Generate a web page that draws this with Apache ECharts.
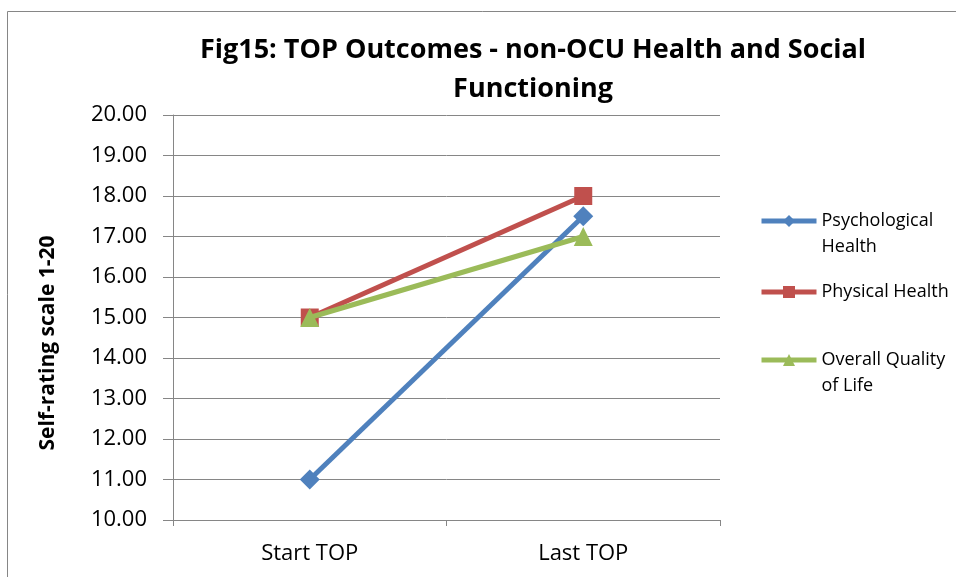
<!DOCTYPE html>
<html><head><meta charset="utf-8">
<script src="https://cdn.jsdelivr.net/npm/echarts@6/dist/echarts.min.js"></script>
<style>html,body{margin:0;padding:0;background:#fff}#c{width:956px;height:577px}</style>
</head><body><div id="c"></div>
<script>
const categories = ['Start TOP', 'Last TOP'];
const psychological = [11.0, 17.5];
const physical = [15.0, 18.0];
const qualityOfLife = [15.0, 17.0];
const seriesNames = ['Psychological Health', 'Physical Health', 'Overall Quality of Life'];
const legendLabels = ['\nPsychological\nHealth', 'Physical Health', '\nOverall Quality\nof Life'];
const yTicks = { min: 10, max: 20, interval: 1 };
const titleText = 'Fig15: TOP Outcomes - non-OCU Health and Social\nFunctioning';
const yName = 'Self-rating scale 1-20';

const FONT = '"Open Sans", "Noto Sans", sans-serif';
const colors = ['#4F81BD', '#C0504D', '#9BBB59'];
const symbols = ['diamond', 'rect', 'triangle'];
const sizes = [20, 18, 19];
const dataArr = [psychological, physical, qualityOfLife];
const legendTops = [182, 279, 321];

const chart = echarts.init(document.getElementById('c'));
const legends = seriesNames.map((n, i) => ({
  data: [n], left: 759, top: legendTops[i], padding: 0,
  itemWidth: 55, itemHeight: 15, orient: 'vertical',
  formatter: () => legendLabels[i],
  lineStyle: { width: 5 },
  textStyle: { fontFamily: FONT, fontSize: 18, color: '#000', lineHeight: 26 }
}));
chart.setOption({
  animation: false,
  backgroundColor: '#fff',
  title: {
    text: titleText, left: 533, textAlign: 'center', top: 31, padding: 0,
    textStyle: { fontFamily: FONT, fontWeight: 'bold', fontSize: 27, color: '#000', lineHeight: 39 }
  },
  legend: legends,
  grid: { left: 173, right: 236, top: 115, bottom: 57 },
  xAxis: {
    type: 'category', data: categories, boundaryGap: true,
    axisLine: { lineStyle: { color: '#868686', width: 1 } },
    axisTick: { show: true, length: 6, lineStyle: { color: '#868686' } },
    axisLabel: { fontFamily: FONT, fontSize: 22, color: '#000', margin: 23 }
  },
  yAxis: {
    type: 'value', min: yTicks.min, max: yTicks.max, interval: yTicks.interval,
    axisLine: { show: true, lineStyle: { color: '#868686', width: 1 } },
    axisTick: { show: true, length: 10, lineStyle: { color: '#868686' } },
    splitLine: { lineStyle: { color: '#868686', width: 1 } },
    axisLabel: { fontFamily: FONT, fontSize: 22, color: '#000', margin: 26, formatter: v => v.toFixed(2) }
  },
  graphic: [
    { type: 'rect', shape: { x: 7.5, y: 11.5, width: 1200, height: 1200 }, style: { fill: null, stroke: '#868686', lineWidth: 1 }, silent: true },
    { type: 'text', x: 48, y: 343, rotation: Math.PI / 2,
      style: { text: yName, fontFamily: FONT, fontWeight: 'bold', fontSize: 21, fill: '#000', align: 'center', verticalAlign: 'middle' } }
  ],
  series: seriesNames.map((n, i) => ({
    name: n, type: 'line', data: dataArr[i],
    symbol: symbols[i], symbolSize: sizes[i],
    lineStyle: { color: colors[i], width: 5 },
    itemStyle: { color: colors[i] },
    z: 2 + i
  }))
});
</script></body></html>
